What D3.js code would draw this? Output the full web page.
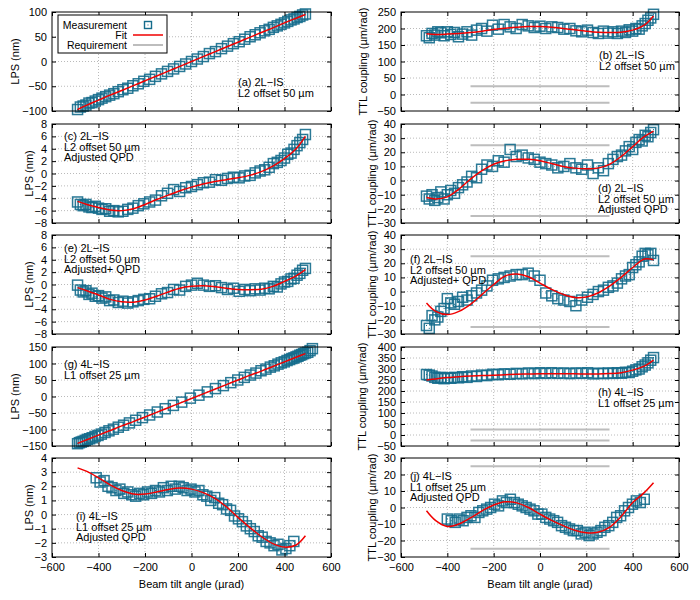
<!DOCTYPE html>
<html>
<head>
<meta charset="utf-8">
<script src="https://cdn.jsdelivr.net/npm/d3@7"></script>
<style>
  body { margin: 0; background: #fff; }
  svg { font-family: "Liberation Sans", Arial, sans-serif; }
</style>
</head>
<body>
<div id="chart"></div>
<script>
var fitX = [-490,-450,-400,-350,-300,-250,-200,-150,-100,-50,0,50,100,150,200,250,300,350,400,450,490];

// measurement tilt angles
var xsA = [-490,-478,-466,-454,-441,-428,-414,-400,-385,-369,-352,-334,-315,-295,-274,-252,-229,-205,-180,-155,-129,-103,-77,-51,-25,0,25,51,77,103,129,155,180,205,229,252,274,295,315,334,352,369,385,400,414,428,441,454,466,478,490];
var xsG = [-490,-482,-474,-466,-457,-448,-438,-427,-415,-402,-388,-372,-355,-336,-315,-292,-267,-240,-211,-180,-147,-113,-78,-42,-5,32,68,103,137,169,199,227,253,277,299,320,339,356,372,386,399,411,422,432,441,450,458,466,474,482,490,500,510,520];
var xsI = [-410,-393,-376,-359,-342,-325,-308,-291,-274,-257,-240,-223,-206,-189,-172,-155,-138,-121,-104,-87,-70,-53,-36,-19,-2,15,32,49,66,83,100,117,134,151,168,185,202,219,236,253,270,287,304,321,338,355,372,389,406,423,440];
var xsJ = [-400,-383,-366,-349,-332,-315,-298,-281,-264,-247,-230,-213,-196,-179,-162,-145,-128,-111,-94,-77,-60,-43,-26,-9,8,25,42,59,76,93,110,127,144,161,178,195,212,229,246,263,280,297,314,331,348,365,382,399,416,433,450];

// (a) LPS, 2L-IS
var measA = [-97,-92,-90,-88,-84,-83,-80,-77,-74,-71,-68,-65,-61,-57,-54,-49,-45,-40,-36,-30,-25,-20,-15,-10,-5,0,5,10,16,20,26,31,36,40,45,50,54,58,62,65,69,72,75,78,81,84,86,89,91,94,96];
var fitA = [-97,-88,-78,-68,-58.5,-48.8,-39,-29.3,-19.5,-9.8,0,9.8,19.5,29.3,39,48.8,58.5,68,78,87.5,95];
// (b) TTL, 2L-IS
var measB = [178,172,185,180,190,187,178,190,182,188,175,183,190,180,195,200,192,210,198,212,205,200,212,208,203,207,200,205,203,198,200,193,190,195,188,185,192,186,190,185,192,188,196,192,200,198,208,215,225,232,243];
var fitB = [184,182,183,185,188,192,197,201,204,206,206,204,200,196,192,189,188,189,195,210,238];
// (c) LPS, adjusted QPD
var measC = [-4.6,-5.0,-5.2,-5.0,-5.4,-5.5,-5.3,-5.6,-5.8,-5.7,-6.1,-6.0,-6.2,-6.1,-5.8,-5.6,-5.2,-4.9,-4.6,-4.3,-3.6,-3.2,-2.6,-2.9,-2.3,-2.1,-1.8,-1.5,-1.4,-1.0,-1.1,-0.8,-0.6,-0.7,-0.4,-0.3,0.1,0.4,0.6,1.0,1.6,1.8,2.1,2.5,3.1,3.3,3.9,4.5,5.0,5.5,6.3];
var fitC = [-4.5,-5.0,-5.5,-5.9,-6.0,-5.7,-5.0,-4.2,-3.5,-2.8,-2.2,-1.7,-1.3,-1.0,-0.7,-0.3,0.3,1.2,2.4,4.0,6.0];
// (d) TTL, adjusted QPD
var measD = [-11,-13,-10,-14,-12,-8,-13,-10,-7,-9,-5,-3,-1,3,2,8,11,10,14,13,22,17,18,16,15,13,12,11,9,10,12,9,8,11,5,9,7,12,15,17,18,21,24,22,27,29,28,32,31,34,36];
var fitD = [-12,-13,-11.5,-6,1,7,11.5,14,15,15,14,12,10,8.8,8.3,8.8,11.5,17,24,31,35];
// (e) LPS, adjusted+ QPD
var measE = [-0.1,-0.9,-1.2,-1.0,-1.6,-1.4,-1.9,-1.8,-2.2,-2.0,-2.6,-2.5,-2.9,-2.7,-3.0,-2.8,-2.6,-2.4,-2.3,-1.9,-1.5,-1.3,-0.8,-0.9,-0.3,-0.1,0.2,-0.1,-0.3,-0.2,-0.5,-0.8,-0.6,-1.1,-0.8,-1.0,-0.7,-0.9,-0.6,-0.7,-0.3,-0.4,0.1,0.4,0.5,0.9,1.0,1.5,1.8,2.3,2.6];
var fitE = [-0.5,-1.0,-1.7,-2.4,-2.8,-2.85,-2.5,-1.9,-1.2,-0.6,-0.3,-0.2,-0.35,-0.6,-0.8,-0.85,-0.75,-0.3,0.5,1.4,2.4];
// (f) TTL, adjusted+ QPD
var measF = [-24,-26,-17,-20,-18,-14,-12,-5,-8,-9,-7,-4,-6,-3,-1,1,4,8,9,10,11,12,12,13,11,8,-1,-3,-5,-6,-7,-10,-6,-4,-2,0,1,3,4,6,9,11,12,17,19,21,25,27,26,27,22];
var fitF = [-8,-14,-16.3,-14,-9,-2,5,11,12.5,10.5,6,1.5,-2,-4.2,-3.8,-1,3.8,10,17,23,22.5];
// (g) LPS, 4L-IS
var measG = [-143,-140,-138,-136,-133,-130,-128,-125,-121,-118,-114,-109,-104,-99,-93,-87,-80,-72,-64,-56,-47,-37,-27,-17,-5,4,14,24,33,42,50,58,65,71,78,83,89,93,98,102,105,109,112,115,117,120,122,125,127,130,132,134,139,145];
var fitG = [-142,-131,-117,-103,-89,-76,-62,-48,-34,-20,-6,8,22,36,50,64,77,91,105,119,130];
// (h) TTL, 4L-IS
var measH = [275,272,268,262,258,262,256,260,258,262,260,265,262,268,266,272,270,276,274,278,276,280,278,282,279,283,280,283,280,282,279,282,280,283,278,281,279,282,280,283,281,285,284,290,296,300,310,318,328,340,352];
var fitH = [250,255,261,265,268,270,272,274,276,277,278,278,278,278,277,277,279,283,295,313,340];
// (i) LPS, 4L-IS adjusted QPD
var measI = [2.6,2.3,2.4,2.0,1.9,1.7,1.8,1.5,1.6,1.4,1.3,1.5,1.4,1.6,1.5,1.7,1.6,1.9,1.7,2.0,1.8,2.0,1.9,1.7,1.8,1.6,1.7,1.4,1.3,1.0,1.2,0.8,0.7,0.4,0.3,-0.1,-0.3,-0.5,-0.8,-1.0,-1.2,-1.5,-1.6,-1.9,-2.0,-2.2,-2.1,-2.5,-2.4,-2.2,-1.9];
var fitI = [3.3,3.05,2.6,2.1,1.7,1.45,1.45,1.6,1.77,1.87,1.8,1.55,1.15,0.55,-0.2,-0.9,-1.55,-2.05,-2.3,-2.15,-1.5];
// (j) TTL, 4L-IS adjusted QPD
var measJ = [-7,-8,-9,-7,-8,-6,-5,-6,-3,-2,-1,0,2,1,4,3,5,3,2,1,0,-1,-2,-4,-4,-6,-7,-8,-9,-11,-12,-13,-14,-14,-16,-15,-17,-16,-15,-14,-12,-11,-9,-6,-5,-2,0,2,4,3,5];
var fitJ = [-2,-8,-11.5,-10,-6.3,-2,1.5,3.5,2.8,0,-4,-7.8,-11,-13.8,-15.3,-15,-12,-5.5,3,9,15];

// requirement band for TTL coupling (um/rad) over +-300 urad
var reqX = [-300, 300];
var reqLevels = [25, -25];

var xTicks = [-600,-400,-200,0,200,400,600];
var lpsLabel = "LPS (nm)";
var ttlLabel = "TTL coupling (\u00b5m/rad)";
var xLabel = "Beam tilt angle (\u00b5rad)";
var legendNames = ["Measurement", "Fit", "Requirement"];

var W = 700, H = 600;
var colX = [[52, 331], [401, 679]];
var rowTop = [12, 124, 235, 347, 458];
var plotH = 99;

var panels = [
  {col:0, row:0, xs:xsA, ys:measA, fit:fitA, dom:[-100,100], ticks:[-100,-50,0,50,100], ylab:lpsLabel, ylx:15, req:false,
   text:["(a) 2L\u2212IS","L2 offset 50 \u00b5m"], tx:238, ty:82},
  {col:1, row:0, xs:xsA, ys:measB, fit:fitB, dom:[-50,250], ticks:[-50,0,50,100,150,200,250], ylab:ttlLabel, ylx:363, req:true,
   text:["(b) 2L\u2212IS","L2 offset 50 \u00b5m"], tx:599, ty:55},
  {col:0, row:1, xs:xsA, ys:measC, fit:fitC, dom:[-8,8], ticks:[-8,-6,-4,-2,0,2,4,6,8], ylab:lpsLabel, ylx:29, req:false,
   text:["(c) 2L\u2212IS","L2 offset 50 \u00b5m","Adjusted QPD"], tx:64, ty:136},
  {col:1, row:1, xs:xsA, ys:measD, fit:fitD, dom:[-30,40], ticks:[-30,-20,-10,0,10,20,30,40], ylab:ttlLabel, ylx:372, req:true,
   text:["(d) 2L\u2212IS","L2 offset 50 \u00b5m","Adjusted QPD"], tx:598, ty:188},
  {col:0, row:2, xs:xsA, ys:measE, fit:fitE, dom:[-8,8], ticks:[-8,-6,-4,-2,0,2,4,6,8], ylab:lpsLabel, ylx:29, req:false,
   text:["(e) 2L\u2212IS","L2 offset 50 \u00b5m","Adjusted+ QPD"], tx:64, ty:248},
  {col:1, row:2, xs:xsA, ys:measF, fit:fitF, dom:[-30,40], ticks:[-30,-20,-10,0,10,20,30,40], ylab:ttlLabel, ylx:372, req:true,
   text:["(f) 2L\u2212IS","L2 offset 50 \u00b5m","Adjusted+ QPD"], tx:410, ty:259},
  {col:0, row:3, xs:xsG, ys:measG, fit:fitG, dom:[-150,150], ticks:[-150,-100,-50,0,50,100,150], ylab:lpsLabel, ylx:15, req:false,
   text:["(g) 4L\u2212IS","L1 offset 25 \u00b5m"], tx:64, ty:364},
  {col:1, row:3, xs:xsA, ys:measH, fit:fitH, dom:[-50,400], ticks:[-50,0,50,100,150,200,250,300,350,400], ylab:ttlLabel, ylx:362, req:true,
   text:["(h) 4L\u2212IS","L1 offset 25 \u00b5m"], tx:598, ty:392},
  {col:0, row:4, xs:xsI, ys:measI, fit:fitI, dom:[-3,4], ticks:[-3,-2,-1,0,1,2,3,4], ylab:lpsLabel, ylx:29, req:false,
   text:["(i) 4L\u2212IS","L1 offset 25 \u00b5m","Adjusted QPD"], tx:76, ty:516},
  {col:1, row:4, xs:xsJ, ys:measJ, fit:fitJ, dom:[-30,30], ticks:[-30,-20,-10,0,10,20,30], ylab:ttlLabel, ylx:372, req:true,
   text:["(j) 4L\u2212IS","L1 offset 25 \u00b5m","Adjusted QPD"], tx:410, ty:476}
];

var markColor = "#146c8c";
var fmt = function(d) { return d < 0 ? "\u2212" + Math.abs(d) : String(d); };

var svg = d3.select("#chart").append("svg").attr("width", W).attr("height", H);

panels.forEach(function(p) {
  var x0 = colX[p.col][0], x1 = colX[p.col][1];
  var y0 = rowTop[p.row], y1 = y0 + plotH;
  var x = d3.scaleLinear().domain([-600, 600]).range([x0, x1]);
  var y = d3.scaleLinear().domain(p.dom).range([y1, y0]);
  var g = svg.append("g");

  // dotted grid
  g.selectAll(".gx").data(xTicks.slice(1, -1)).enter().append("line")
    .attr("x1", function(d) { return x(d); }).attr("x2", function(d) { return x(d); })
    .attr("y1", y0).attr("y2", y1)
    .attr("stroke", "#a8a8a8").attr("stroke-width", 0.8).attr("stroke-dasharray", "1,2");
  g.selectAll(".gy").data(p.ticks.slice(1, -1)).enter().append("line")
    .attr("x1", x0).attr("x2", x1)
    .attr("y1", function(d) { return y(d); }).attr("y2", function(d) { return y(d); })
    .attr("stroke", "#a8a8a8").attr("stroke-width", 0.8).attr("stroke-dasharray", "1,2");

  // requirement lines
  if (p.req) {
    g.selectAll(".req").data(reqLevels).enter().append("line")
      .attr("x1", x(reqX[0])).attr("x2", x(reqX[1]))
      .attr("y1", function(d) { return y(d); }).attr("y2", function(d) { return y(d); })
      .attr("stroke", "#bdbdbd").attr("stroke-width", 2);
  }

  // measurements
  var pts = p.xs.map(function(v, i) { return [v, p.ys[i]]; });
  var mk = g.selectAll(".m").data(pts).enter().append("g")
    .attr("transform", function(d) { return "translate(" + x(d[0]) + "," + y(d[1]) + ")"; });
  mk.append("rect").attr("x", -5).attr("y", -5).attr("width", 10).attr("height", 10)
    .attr("fill", "none").attr("stroke", markColor).attr("stroke-width", 1.5).attr("stroke-opacity", 0.9);
  mk.append("rect").attr("x", -0.5).attr("y", -0.5).attr("width", 1).attr("height", 1)
    .attr("fill", markColor);

  // fit
  var line = d3.line().x(function(d) { return x(d[0]); }).y(function(d) { return y(d[1]); })
    .curve(d3.curveCatmullRom);
  g.append("path").datum(fitX.map(function(v, i) { return [v, p.fit[i]]; }))
    .attr("d", line).attr("fill", "none").attr("stroke", "#f00000").attr("stroke-width", 1.5);

  // axes with inward ticks, mirrored
  var bottom = p.row === 4;
  var axB = g.append("g").attr("transform", "translate(0," + y1 + ")")
    .call(d3.axisBottom(x).tickValues(xTicks).tickSizeInner(-4).tickSizeOuter(0).tickPadding(6)
      .tickFormat(bottom ? fmt : function() { return ""; }));
  var axT = g.append("g").attr("transform", "translate(0," + y0 + ")")
    .call(d3.axisTop(x).tickValues(xTicks).tickSizeInner(-4).tickSizeOuter(0).tickFormat(""));
  var axL = g.append("g").attr("transform", "translate(" + x0 + ",0)")
    .call(d3.axisLeft(y).tickValues(p.ticks).tickSizeInner(-4).tickSizeOuter(0).tickPadding(5).tickFormat(fmt));
  var axR = g.append("g").attr("transform", "translate(" + x1 + ",0)")
    .call(d3.axisRight(y).tickValues(p.ticks).tickSizeInner(-4).tickSizeOuter(0).tickFormat(""));
  [axB, axT, axL, axR].forEach(function(a) {
    a.select(".domain").remove();
    a.selectAll("text").attr("font-size", 11).attr("fill", "#000")
      .attr("font-family", "Liberation Sans, Arial, sans-serif");
    a.selectAll("line").attr("stroke", "#000");
  });

  g.append("rect").attr("x", x0).attr("y", y0).attr("width", x1 - x0).attr("height", plotH)
    .attr("fill", "none").attr("stroke", "#000").attr("stroke-width", 1);

  // y label
  g.append("text").attr("transform", "translate(" + p.ylx + "," + (y0 + plotH / 2) + ") rotate(-90)")
    .attr("text-anchor", "middle").attr("dominant-baseline", "central")
    .attr("font-size", 11).text(p.ylab);

  if (bottom) {
    g.append("text").attr("x", (x0 + x1) / 2).attr("y", 584)
      .attr("text-anchor", "middle").attr("dominant-baseline", "central")
      .attr("font-size", 11).text(xLabel);
  }

  // panel annotation
  g.selectAll(".ann").data(p.text).enter().append("text")
    .attr("x", p.tx).attr("y", function(d, i) { return p.ty + i * 10.6; })
    .attr("dominant-baseline", "central").attr("font-size", 11).text(function(d) { return d; });
});

// legend in panel (a)
var lg = svg.append("g");
lg.append("rect").attr("x", 58).attr("y", 15).attr("width", 109).attr("height", 38)
  .attr("fill", "#fff").attr("stroke", "#000").attr("stroke-width", 1);
legendNames.forEach(function(n, i) {
  var ly = 25 + i * 10;
  lg.append("text").attr("x", 127).attr("y", ly).attr("text-anchor", "end")
    .attr("dominant-baseline", "central").attr("font-size", 10.5).text(n);
});
lg.append("rect").attr("x", 144.5).attr("y", 21.5).attr("width", 7).attr("height", 7)
  .attr("fill", "none").attr("stroke", markColor).attr("stroke-width", 1.4);
lg.append("rect").attr("x", 147.5).attr("y", 24.5).attr("width", 1).attr("height", 1).attr("fill", markColor);
lg.append("line").attr("x1", 133).attr("x2", 163).attr("y1", 35).attr("y2", 35)
  .attr("stroke", "#f00000").attr("stroke-width", 1.5);
lg.append("line").attr("x1", 133).attr("x2", 163).attr("y1", 45).attr("y2", 45)
  .attr("stroke", "#bdbdbd").attr("stroke-width", 2);
</script>
</body>
</html>
